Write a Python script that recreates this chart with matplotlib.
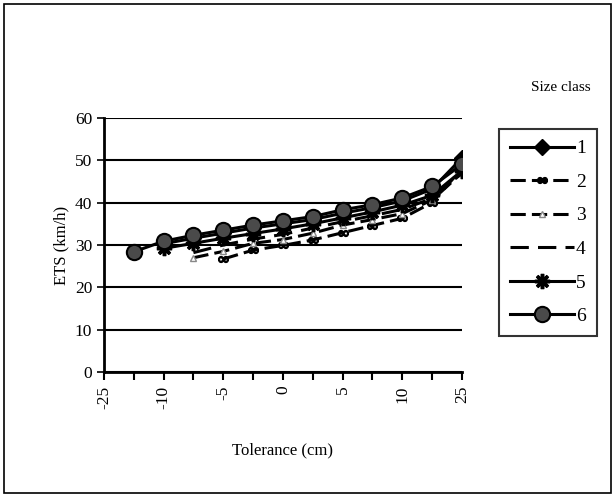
import numpy as np
import matplotlib
matplotlib.use("Agg")
import matplotlib.pyplot as plt
from matplotlib.patches import Rectangle

plt.rcParams["font.family"] = ["Liberation Serif", "DejaVu Serif"]

# -------------------------------------------------------
# Data
# -------------------------------------------------------
tolerance = ["-25", "-12.5", "-10", "-7.5", "-5", "-2.5", "0",
             "2.5", "5", "7.5", "10", "12.5", "25"]
shown_labels = ["-25", "", "-10", "", "-5", "", "0", "", "5", "", "10", "", "25"]

nan = np.nan
ets_1 = [nan, nan, 30.3, 31.6, 32.8, 34.0, 35.0, 36.0, 37.5, 38.8, 40.4, 43.2, 50.5]
ets_2 = [nan, nan, nan, nan, 26.7, 28.8, 29.9, 31.2, 32.9, 34.6, 36.3, 40.0, 48.0]
ets_3 = [nan, nan, nan, 27.0, 28.5, 30.4, 31.3, 32.8, 34.7, 36.0, 37.4, 40.6, 47.0]
ets_4 = [nan, nan, nan, 28.2, 30.0, 31.4, 32.5, 34.0, 35.5, 36.9, 38.4, 41.0, 47.2]
ets_5 = [nan, nan, 29.2, 30.4, 31.6, 32.7, 33.8, 35.0, 36.4, 37.8, 39.4, 41.7, 47.5]
ets_6 = [nan, 28.4, 30.9, 32.3, 33.5, 34.7, 35.7, 36.7, 38.3, 39.5, 41.1, 43.8, 49.0]

series = [
    ("1", ets_1, dict(ls="-", marker="D", ms=8, mfc="black", mec="black")),
    ("2", ets_2, dict(ls=(0, (5, 2)), marker="$\\infty$", ms=7, mfc="black", mec="black")),
    ("3", ets_3, dict(ls=(0, (5, 2)), marker="^", ms=5, mfc="white", mec="#888888")),
    ("4", ets_4, dict(ls=(0, (6, 3)), marker="")),
    ("5", ets_5, dict(ls="-", marker=(8, 2, 0), ms=11, mew=2.5, mec="black")),
    ("6", ets_6, dict(ls="-", marker="o", ms=11, mfc="#4a4a4a", mec="black", mew=1.5)),
]

# -------------------------------------------------------
# Figure
# -------------------------------------------------------
fig = plt.figure(figsize=(6.15, 4.97), dpi=100)
ax = fig.add_axes([0.169, 0.251, 0.582, 0.512])

x = np.arange(len(tolerance))
handles = []
for label, values, style in series:
    h, = ax.plot(x, values, color="black", lw=2.2, label=label, **style)
    handles.append(h)

ax.set_xlim(0, len(tolerance) - 1)
ax.set_ylim(0, 60)
ax.set_yticks(range(0, 61, 10))
ax.yaxis.grid(True, color="black", lw=1.5)
ax.set_axisbelow(True)

ax.set_xticks(x)
ax.set_xticklabels(shown_labels, rotation=90, fontsize=12.5)
ax.tick_params(axis="y", labelsize=12.5, length=5, width=1.2, direction="out")
ax.tick_params(axis="x", length=6, width=1.5, direction="out")

for side in ("top", "right"):
    ax.spines[side].set_visible(False)
for side in ("left", "bottom"):
    ax.spines[side].set_linewidth(2)

ax.set_ylabel("ETS (km/h)", fontsize=12, labelpad=4)
ax.set_xlabel("Tolerance (cm)", fontsize=12, labelpad=24)

fig.text(0.912, 0.823, "Size class", ha="center", va="center", fontsize=11)
leg = fig.legend(handles=handles, loc="upper left",
                 bbox_to_anchor=(0.796, 0.76), fontsize=14,
                 frameon=True, fancybox=False, edgecolor="black",
                 handlelength=3.3, handletextpad=0.1, labelspacing=0.82,
                 borderpad=0.55, markerfirst=True)
leg.get_frame().set_linewidth(1.5)

fig.patches.append(Rectangle((0.006, 0.008), 0.988, 0.984, transform=fig.transFigure,
                             fill=False, edgecolor="black", lw=1.2))

fig.savefig("out.png", dpi=100)
